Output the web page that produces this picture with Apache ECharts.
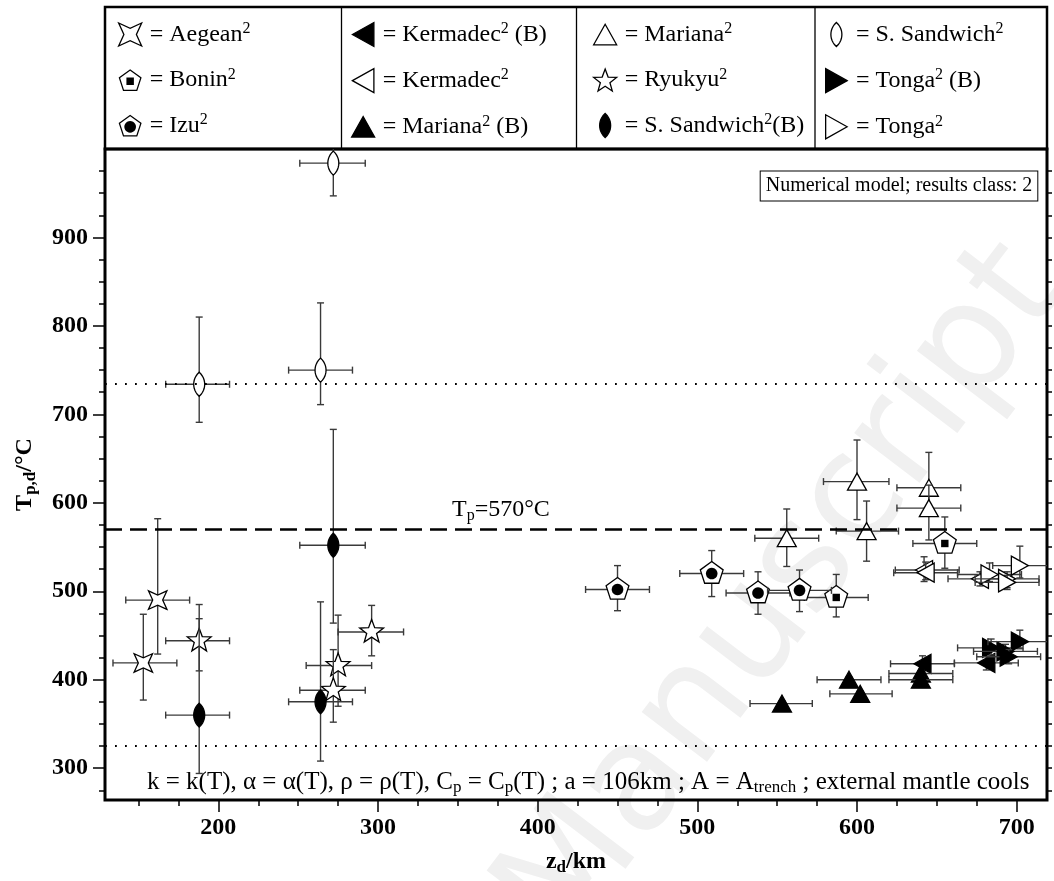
<!DOCTYPE html>
<html>
<head>
<meta charset="utf-8">
<script src="https://cdn.jsdelivr.net/npm/echarts@6/dist/echarts.min.js"></script>
<style>
  html, body { margin: 0; padding: 0; background: #fff; }
  #main { width: 1054px; height: 881px; }
</style>
</head>
<body>
<div id="main"></div>
<script>
// each row: [z, T, zLow, zHigh, TLow, THigh]
const aegean = [[162, 490, 142, 182, 429, 582], [153, 419, 134, 174, 377, 474]];
const bonin = [[587, 493, 567, 607, 471, 519], [655, 554, 635, 675, 526, 584]];
const izu = [[450, 502, 430, 470, 478, 529], [509, 520, 489, 529, 494, 546],
  [538, 498, 518, 558, 474, 522], [564, 501, 544, 584, 477, 524]];
const kermadecB = [[641, 418, 621, 661, 410, 427], [681, 419, 661, 701, 411, 428]];
const kermadec = [[642, 524, 624, 664, 511, 539], [643, 521, 623, 663, 513, 533], [677, 514, 657, 697, 506, 522]];
const marianaB = [[553, 373, 533, 572, 370, 376], [595, 400, 575, 615, 397, 403], [602, 384, 583, 622, 381, 387],
  [640, 407, 620, 660, 404, 410], [640, 400, 620, 660, 397, 403]];
const mariana = [[556, 560, 536, 576, 528, 593], [600, 624, 579, 620, 581, 671], [606, 568, 587, 626, 534, 602],
  [645, 617, 625, 665, 590, 657], [645, 594, 625, 665, 558, 620]];
const ryukyu = [[188, 444, 167, 207, 410, 469], [296, 454, 275, 316, 427, 484],
  [275, 416, 255, 296, 370, 473], [272, 388, 251, 292, 352, 434]];
const sandwich = [[272, 984, 251, 292, 947, 1020], [188, 734, 167, 207, 691, 810], [264, 750, 244, 284, 711, 826]];
const sandwichB = [[272, 552, 251, 292, 464, 683], [188, 360, 167, 207, 294, 485], [264, 375, 244, 284, 308, 488]];
const tongaB = [[684, 436, 663, 704, 428, 446], [693, 432, 673, 713, 424, 440],
  [702, 443, 682, 722, 435, 456], [695, 426, 675, 715, 418, 434]];
const tonga = [[683, 519, 663, 703, 511, 532], [694, 514, 674, 714, 504, 522],
  [694, 510, 674, 714, 502, 518], [702, 529, 685, 722, 515, 551]];

const xMajor = [200, 300, 400, 500, 600, 700];
const xMinor = [150, 175, 225, 250, 275, 325, 350, 375, 425, 450, 475, 525, 550, 575, 625, 650, 675, 700];
const yMajor = [300, 400, 500, 600, 700, 800, 900];
const yMinor = [275, 325, 350, 375, 425, 450, 475, 525, 550, 575, 625, 650, 675, 725, 750, 775, 825, 850, 875, 925, 950, 975];
const yRight = [275, 300, 325, 350, 375, 400, 425, 450, 475, 500, 525, 550, 575, 600, 625, 650, 675, 700, 725, 750, 775, 800, 825, 850, 875, 900, 925, 950, 975];
const refLines = [570, 735, 325];

const FONT = 'Liberation Serif';

// ---- marker geometry ----
function regPoly(n, r) {
  const pts = [];
  for (let i = 0; i < n; i++) {
    const a = -Math.PI / 2 + i * 2 * Math.PI / n;
    pts.push([r * Math.cos(a), r * Math.sin(a)]);
  }
  return pts;
}
function starPts(n, ro, ri, rot) {
  const pts = [];
  for (let i = 0; i < 2 * n; i++) {
    const a = rot + i * Math.PI / n;
    const r = i % 2 === 0 ? ro : ri;
    pts.push([r * Math.cos(a), r * Math.sin(a)]);
  }
  return pts;
}
function lensPts(a, b) {
  const R = (a * a + b * b) / (2 * a), d = R - a, pts = [];
  for (let i = 0; i <= 12; i++) {
    const y = -b + i * 2 * b / 12;
    pts.push([Math.sqrt(Math.max(R * R - y * y, 0)) - d, y]);
  }
  for (let i = 11; i >= 1; i--) {
    const y = -b + i * 2 * b / 12;
    pts.push([-(Math.sqrt(Math.max(R * R - y * y, 0)) - d), y]);
  }
  return pts;
}
const TRI = {
  up: [[0, -8.5], [9.5, 8.5], [-9.5, 8.5]],
  left: [[-8.5, 0], [8.5, -9.5], [8.5, 9.5]],
  right: [[8.5, 0], [-8.5, -9.5], [-8.5, 9.5]]
};
const PENT = regPoly(5, 12);
const SQUARE = [[-3.7, -3.7], [3.7, -3.7], [3.7, 3.7], [-3.7, 3.7]];
const DOT = regPoly(24, 5.8);
const STAR5 = starPts(5, 12.5, 5.2, -Math.PI / 2);
const STAR4 = starPts(4, 13, 5, Math.PI / 4);
const LENS = lensPts(5.5, 12);

const SHAPES = {
  'Aegean²': { outline: STAR4, fill: '#fff' },
  'Bonin²': { outline: PENT, fill: '#fff', inner: SQUARE },
  'Izu²': { outline: PENT, fill: '#fff', inner: DOT },
  'Kermadec² (B)': { outline: TRI.left, fill: '#000' },
  'Kermadec²': { outline: TRI.left, fill: '#fff' },
  'Mariana² (B)': { outline: TRI.up, fill: '#000' },
  'Mariana²': { outline: TRI.up, fill: '#fff' },
  'Ryukyu²': { outline: STAR5, fill: '#fff' },
  'S. Sandwich²(B)': { outline: LENS, fill: '#000' },
  'S. Sandwich²': { outline: LENS, fill: '#fff' },
  'Tonga² (B)': { outline: TRI.right, fill: '#000' },
  'Tonga²': { outline: TRI.right, fill: '#fff' }
};
const GROUPS = [
  ['Aegean²', aegean], ['Bonin²', bonin], ['Izu²', izu],
  ['Kermadec² (B)', kermadecB], ['Kermadec²', kermadec], ['Mariana² (B)', marianaB],
  ['Mariana²', mariana], ['Ryukyu²', ryukyu], ['S. Sandwich²(B)', sandwichB],
  ['S. Sandwich²', sandwich], ['Tonga² (B)', tongaB], ['Tonga²', tonga]
];
const LEGEND_COLS = [
  ['Aegean²', 'Bonin²', 'Izu²'],
  ['Kermadec² (B)', 'Kermadec²', 'Mariana² (B)'],
  ['Mariana²', 'Ryukyu²', 'S. Sandwich²(B)'],
  ['S. Sandwich²', 'Tonga² (B)', 'Tonga²']
];
const LEGEND_LEFT = [118, 351, 593, 825];

function toPath(pts) {
  return 'M' + pts.map(p => p[0].toFixed(2) + ' ' + p[1].toFixed(2)).join(' L') + ' Z';
}
function legendIcon(name) {
  const s = SHAPES[name];
  if (s.inner) {
    const ringIn = s.outline.map(p => [p[0] * 0.87, p[1] * 0.87]).reverse();
    return { icon: 'path://' + toPath(s.outline) + ' ' + toPath(ringIn) + ' ' + toPath(s.inner),
      itemStyle: { color: '#000', borderWidth: 0 } };
  }
  return { icon: 'path://' + toPath(s.outline),
    itemStyle: { color: s.fill, borderColor: '#000', borderWidth: 1.3 } };
}
function legendFmt(name) {
  const i = name.indexOf('²');
  return '= ' + name.slice(0, i) + '{s|2}' + name.slice(i + 1);
}

function makeRender(name) {
  const s = SHAPES[name];
  return function (params, api) {
    const c = api.coord([api.value(0), api.value(1)]);
    const l = api.coord([api.value(2), api.value(1)])[0];
    const r = api.coord([api.value(3), api.value(1)])[0];
    const b = api.coord([api.value(0), api.value(4)])[1];
    const t = api.coord([api.value(0), api.value(5)])[1];
    const cap = 3.5;
    const ls = { stroke: '#3a3a3a', lineWidth: 1.4 };
    const line = (x1, y1, x2, y2) => ({ type: 'line', shape: { x1, y1, x2, y2 }, style: ls });
    const move = pts => pts.map(p => [c[0] + p[0], c[1] + p[1]]);
    const children = [
      line(l, c[1], r, c[1]), line(l, c[1] - cap, l, c[1] + cap), line(r, c[1] - cap, r, c[1] + cap),
      line(c[0], t, c[0], b), line(c[0] - cap, t, c[0] + cap, t), line(c[0] - cap, b, c[0] + cap, b),
      { type: 'polygon', shape: { points: move(s.outline) }, style: { fill: s.fill, stroke: '#000', lineWidth: 1.3 } }
    ];
    if (s.inner) {
      children.push({ type: 'polygon', shape: { points: move(s.inner) }, style: { fill: '#000' } });
    }
    return { type: 'group', children };
  };
}

const chart = echarts.init(document.getElementById('main'), null, { renderer: 'canvas' });

const axisFont = { fontFamily: FONT, fontWeight: 'bold', fontSize: 24, color: '#000' };
const tickStyle = { color: '#000', width: 1.5 };

const series = GROUPS.map(([name, data]) => ({
  name, type: 'custom', data, clip: true, z: 3,
  encode: { x: 0, y: 1 },
  renderItem: makeRender(name)
}));
series.push({
  type: 'line', data: [], z: 1,
  markLine: {
    silent: true, symbol: 'none', animation: false, label: { show: false },
    data: [
      { yAxis: refLines[0], lineStyle: { color: '#000', width: 2.6, type: [17, 8] } },
      { yAxis: refLines[1], lineStyle: { color: '#000', width: 1.8, type: [1.8, 8.2] } },
      { yAxis: refLines[2], lineStyle: { color: '#000', width: 1.8, type: [1.8, 8.2] } }
    ]
  }
});

chart.setOption({
  animation: false,
  backgroundColor: '#fff',
  grid: { left: 105, right: 7, top: 149, bottom: 81, show: true, borderColor: '#000', borderWidth: 3 },
  legend: LEGEND_COLS.map((names, i) => ({
    orient: 'vertical', left: LEGEND_LEFT[i], top: 21, padding: 0, itemGap: 20,
    itemWidth: 23, itemHeight: 24, selectedMode: false,
    data: names.map(n => Object.assign({ name: n }, legendIcon(n))),
    formatter: legendFmt,
    textStyle: {
      fontFamily: FONT, fontSize: 24, color: '#000', padding: [0, 0, 0, 3],
      rich: { s: { fontFamily: FONT, fontSize: 16, color: '#000', padding: [0, 0, 11, 0] } }
    }
  })),
  xAxis: [
    {
      type: 'value', min: 129, max: 719, position: 'bottom',
      axisLine: { show: false }, splitLine: { show: false },
      axisTick: { show: true, customValues: xMajor, length: 12, lineStyle: tickStyle },
      axisLabel: Object.assign({ customValues: xMajor, margin: 16 }, axisFont),
      name: 'z{sub|d}/km', nameLocation: 'middle', nameGap: 48,
      nameTextStyle: Object.assign({}, axisFont, {
        rich: { sub: { fontFamily: FONT, fontWeight: 'bold', fontSize: 17, color: '#000', padding: [11, 0, 0, 0] } }
      })
    },
    {
      type: 'value', min: 129, max: 719, position: 'bottom',
      axisLine: { show: false }, splitLine: { show: false },
      axisTick: { show: true, customValues: xMinor, length: 6, lineStyle: tickStyle },
      axisLabel: { show: false }
    }
  ],
  yAxis: [
    {
      type: 'value', min: 264, max: 1000, position: 'left',
      axisLine: { show: false }, splitLine: { show: false },
      axisTick: { show: true, customValues: yMajor, length: 12, lineStyle: tickStyle },
      axisLabel: Object.assign({ customValues: yMajor, margin: 17 }, axisFont),
      name: 'T{sub|p,d}/°C', nameLocation: 'middle', nameGap: 66, nameRotate: 90,
      nameTextStyle: Object.assign({}, axisFont, {
        rich: { sub: { fontFamily: FONT, fontWeight: 'bold', fontSize: 17, color: '#000', padding: [11, 0, 0, 0] } }
      })
    },
    {
      type: 'value', min: 264, max: 1000, position: 'left',
      axisLine: { show: false }, splitLine: { show: false },
      axisTick: { show: true, customValues: yMinor, length: 6, lineStyle: tickStyle },
      axisLabel: { show: false }
    },
    {
      type: 'value', min: 264, max: 1000, position: 'right',
      axisLine: { show: false }, splitLine: { show: false },
      axisTick: { show: true, customValues: yRight, length: 5, lineStyle: tickStyle },
      axisLabel: { show: false }
    }
  ],
  graphic: [
    {
      type: 'text', x: 785, y: 595, rotation: 0.92, z: -10, silent: true,
      style: { text: 'Manuscript', font: '150px "DejaVu Sans"', fill: '#f0f0f0', align: 'center', verticalAlign: 'middle' }
    },
    { type: 'rect', shape: { x: 105, y: 7, width: 942, height: 142 }, style: { fill: 'none', stroke: '#000', lineWidth: 2.5 } },
    { type: 'line', shape: { x1: 341.5, y1: 7, x2: 341.5, y2: 149 }, style: { stroke: '#000', lineWidth: 1.3 } },
    { type: 'line', shape: { x1: 576.5, y1: 7, x2: 576.5, y2: 149 }, style: { stroke: '#000', lineWidth: 1.3 } },
    { type: 'line', shape: { x1: 815, y1: 7, x2: 815, y2: 149 }, style: { stroke: '#000', lineWidth: 1.3 } },
    {
      type: 'text', x: 899, y: 186, z: 5,
      style: {
        text: 'Numerical model; results class: 2', font: '20px "Liberation Serif"', fill: '#000',
        align: 'center', verticalAlign: 'middle', backgroundColor: '#fff',
        borderColor: '#000', borderWidth: 1, padding: [5, 5, 4, 5]
      }
    },
    {
      type: 'text', x: 452, y: 510, z: 5,
      style: {
        text: 'T{sub|p}=570°C', font: '24px "Liberation Serif"', fill: '#000', verticalAlign: 'middle',
        rich: { sub: { font: '16px "Liberation Serif"', fill: '#000', padding: [12, 0, 0, 0] } }
      }
    },
    {
      type: 'text', x: 147, y: 782, z: 5,
      style: {
        text: 'k = k(T), α = α(T), ρ = ρ(T), C{sub|p} = C{sub|p}(T) ; a = 106km ; A = A{sub|trench} ; external mantle cools',
        font: '25px "Liberation Serif"', fill: '#000', verticalAlign: 'middle',
        rich: { sub: { font: '17px "Liberation Serif"', fill: '#000', padding: [12, 0, 0, 0] } }
      }
    }
  ],
  series
});
</script>
</body>
</html>
